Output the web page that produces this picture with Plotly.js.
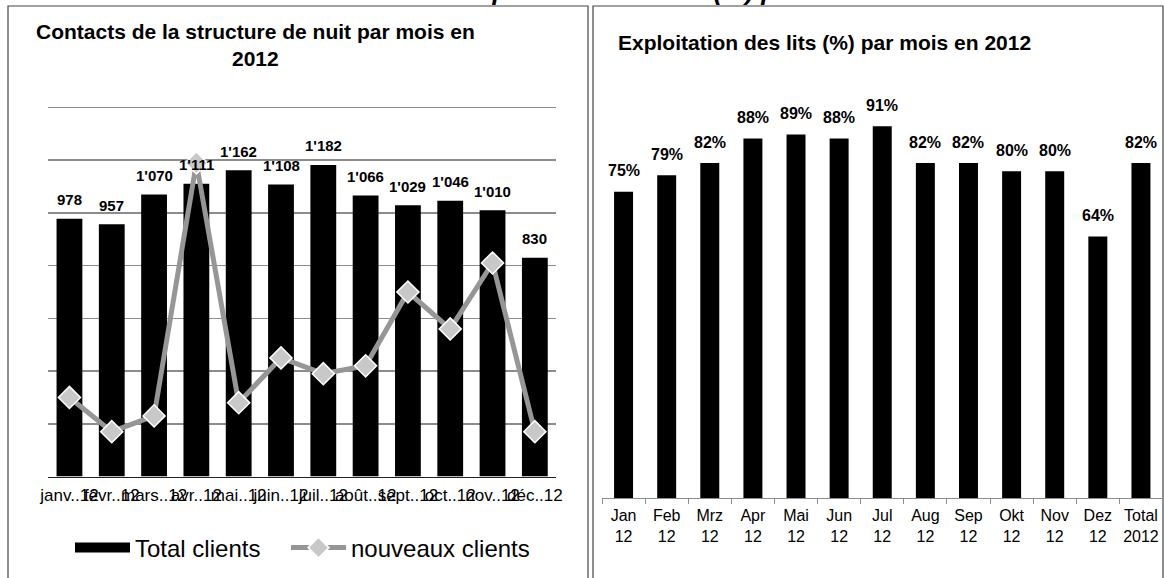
<!DOCTYPE html>
<html>
<head>
<meta charset="utf-8">
<script src="https://cdn.plot.ly/plotly-3.0.1.min.js"></script>
<style>
html,body{margin:0;padding:0;background:#fff;}
#chart{width:1164px;height:578px;}
</style>
</head>
<body>
<div id="chart"></div>
<script>
// ---- data ----
const leftCats = ["janv..12","févr..12","mars..12","avr..12","mai..12","juin..12","juil..12","août..12","sept..12","oct..12","nov..12","déc..12"];
const totalClients = [978,957,1070,1111,1162,1108,1182,1066,1029,1046,1010,830];
const newClients = [30,17,23,119,28,45,39,42,70,56,81,17];
const rightCats = ["Jan<br>12","Feb<br>12","Mrz<br>12","Apr<br>12","Mai<br>12","Jun<br>12","Jul<br>12","Aug<br>12","Sep<br>12","Okt<br>12","Nov<br>12","Dez<br>12","Total<br>2012"];
const bedUse = [75,79,82,88,89,88,91,82,82,80,80,64,82];

const mainTitle = "Contacts de la structure de nuit et exploitation des lits (%) par mois en 2012";
const leftTitle = "Contacts de la structure de nuit par mois en<br>2012";
const rightTitle = "Exploitation des lits (%) par mois en 2012";

// ---- helpers ----
const W = 1164, H = 578;
const px = x => x / W;
const py = y => 1 - y / H;
const FONT = "Liberation Sans, Arial, Helvetica, sans-serif";
function swiss(n){ return String(n).replace(/\B(?=(\d{3})+(?!\d))/g, "'"); }

// left value axis: 0 at y=476.5px, 1400 at y=107.5px; range padded slightly so the 1400 gridline shows
const LPPU = (476.5 - 107.5) / 1400;
const LTOP = 1405;

const traces = [
  {
    type: "bar", x: leftCats, y: totalClients, name: "Total clients", width: 0.61,
    xaxis: "x", yaxis: "y", marker: {color: "#000"}, showlegend: false, hoverinfo: "skip"
  },
  {
    type: "scatter", mode: "lines", x: [null], y: [null], name: "Total clients",
    xaxis: "x", yaxis: "y", line: {color: "#000", width: 14}, showlegend: true, hoverinfo: "skip",
    legend: "legend"
  },
  {
    type: "scatter", mode: "lines+markers", x: leftCats, y: newClients, name: "nouveaux clients",
    xaxis: "x", yaxis: "y2",
    line: {color: "rgb(150,150,150)", width: 5},
    marker: {symbol: "diamond", size: 17, color: "rgb(200,200,200)", line: {color: "#fff", width: 1.5}},
    showlegend: true, hoverinfo: "skip", legend: "legend2"
  },
  {
    type: "bar", x: rightCats, y: bedUse, name: "Exploitation des lits", width: 0.44,
    xaxis: "x2", yaxis: "y3", marker: {color: "#000"}, showlegend: false, hoverinfo: "skip"
  }
];

const annotations = [];
annotations.push({
  xref: "paper", yref: "paper", x: px(34), y: py(8), xanchor: "left", yanchor: "bottom",
  text: "<b><i>" + mainTitle + "</i></b>", showarrow: false,
  font: {family: FONT, size: 26, color: "#000"}
});
annotations.push({
  xref: "paper", yref: "paper", x: px(255), y: py(45), xanchor: "center", yanchor: "middle",
  text: "<b>" + leftTitle + "</b>", showarrow: false, align: "center",
  font: {family: FONT, size: 21, color: "#000"}
});
annotations.push({
  xref: "paper", yref: "paper", x: px(616), y: py(42), xanchor: "left", yanchor: "middle",
  text: "<b>" + rightTitle + "</b>", showarrow: false,
  font: {family: FONT, size: 21, color: "#000"}
});
leftCats.forEach((c, i) => {
  annotations.push({
    xref: "x", yref: "y", x: c, y: totalClients[i], yanchor: "middle", yshift: 19,
    text: "<b>" + swiss(totalClients[i]) + "</b>", showarrow: false,
    font: {family: FONT, size: 15, color: "#000"}
  });
});
rightCats.forEach((c, i) => {
  annotations.push({
    xref: "x2", yref: "y3", x: c, y: bedUse[i], yanchor: "middle", yshift: 21,
    text: "<b>" + bedUse[i] + "%</b>", showarrow: false,
    font: {family: FONT, size: 16, color: "#000"}
  });
});

const shapes = [
  {type: "rect", xref: "paper", yref: "paper", x0: px(8), x1: px(588), y0: -0.2, y1: py(6),
   line: {color: "#444", width: 1.2}, fillcolor: "rgba(0,0,0,0)", layer: "below"},
  {type: "rect", xref: "paper", yref: "paper", x0: px(593), x1: px(1163), y0: -0.2, y1: py(6),
   line: {color: "#444", width: 1.2}, fillcolor: "rgba(0,0,0,0)", layer: "below"}
];

const legendBase = {
  orientation: "h", y: py(548), xanchor: "left", yanchor: "middle",
  font: {family: FONT, size: 24, color: "#000"}, itemwidth: 55, bgcolor: "rgba(0,0,0,0)"
};

const layout = {
  width: W, height: H,
  margin: {l: 0, r: 0, t: 0, b: 0, autoexpand: false},
  paper_bgcolor: "#fff", plot_bgcolor: "rgba(0,0,0,0)",
  font: {family: FONT, color: "#000"},
  xaxis: {
    domain: [px(48.3), px(556)], anchor: "y", type: "category", range: [-0.5, leftCats.length - 0.5],
    showline: true, linecolor: "#222", linewidth: 1, ticks: "", tickangle: 0,
    tickfont: {family: FONT, size: 17, color: "#000"}, ticklabelstandoff: 3,
    showgrid: false, zeroline: false, fixedrange: true
  },
  yaxis: {
    domain: [py(476.5), py(107.5 - (LTOP - 1400) * LPPU)], anchor: "x", range: [0, LTOP],
    tickmode: "linear", tick0: 0, dtick: 200,
    showgrid: true, gridcolor: "#8c8c8c", gridwidth: 1.5, showticklabels: false,
    zeroline: false, showline: false, ticks: "", fixedrange: true
  },
  yaxis2: {
    overlaying: "y", anchor: "x", side: "right", range: [0, 140 * LTOP / 1400], visible: false,
    showgrid: false, zeroline: false, fixedrange: true
  },
  xaxis2: {
    domain: [px(602), px(1162.5)], anchor: "y3", type: "category", range: [-0.5, rightCats.length - 0.5],
    showline: true, linecolor: "#8c8c8c", linewidth: 1,
    ticks: "outside", tickson: "boundaries", ticklen: 5, tickcolor: "#8c8c8c", tickwidth: 1,
    tickangle: 0, tickfont: {family: FONT, size: 16, color: "#000"}, ticklabelstandoff: 3,
    showgrid: false, zeroline: false, fixedrange: true
  },
  yaxis3: {
    domain: [py(498), py(89.5)], anchor: "x2", range: [0, 100], visible: false,
    showgrid: false, zeroline: false, fixedrange: true
  },
  legend: Object.assign({}, legendBase, {x: px(70)}),
  legend2: Object.assign({}, legendBase, {x: px(286)}),
  annotations: annotations,
  shapes: shapes
};

Plotly.newPlot("chart", traces, layout, {staticPlot: true, displayModeBar: false});
</script>
</body>
</html>
